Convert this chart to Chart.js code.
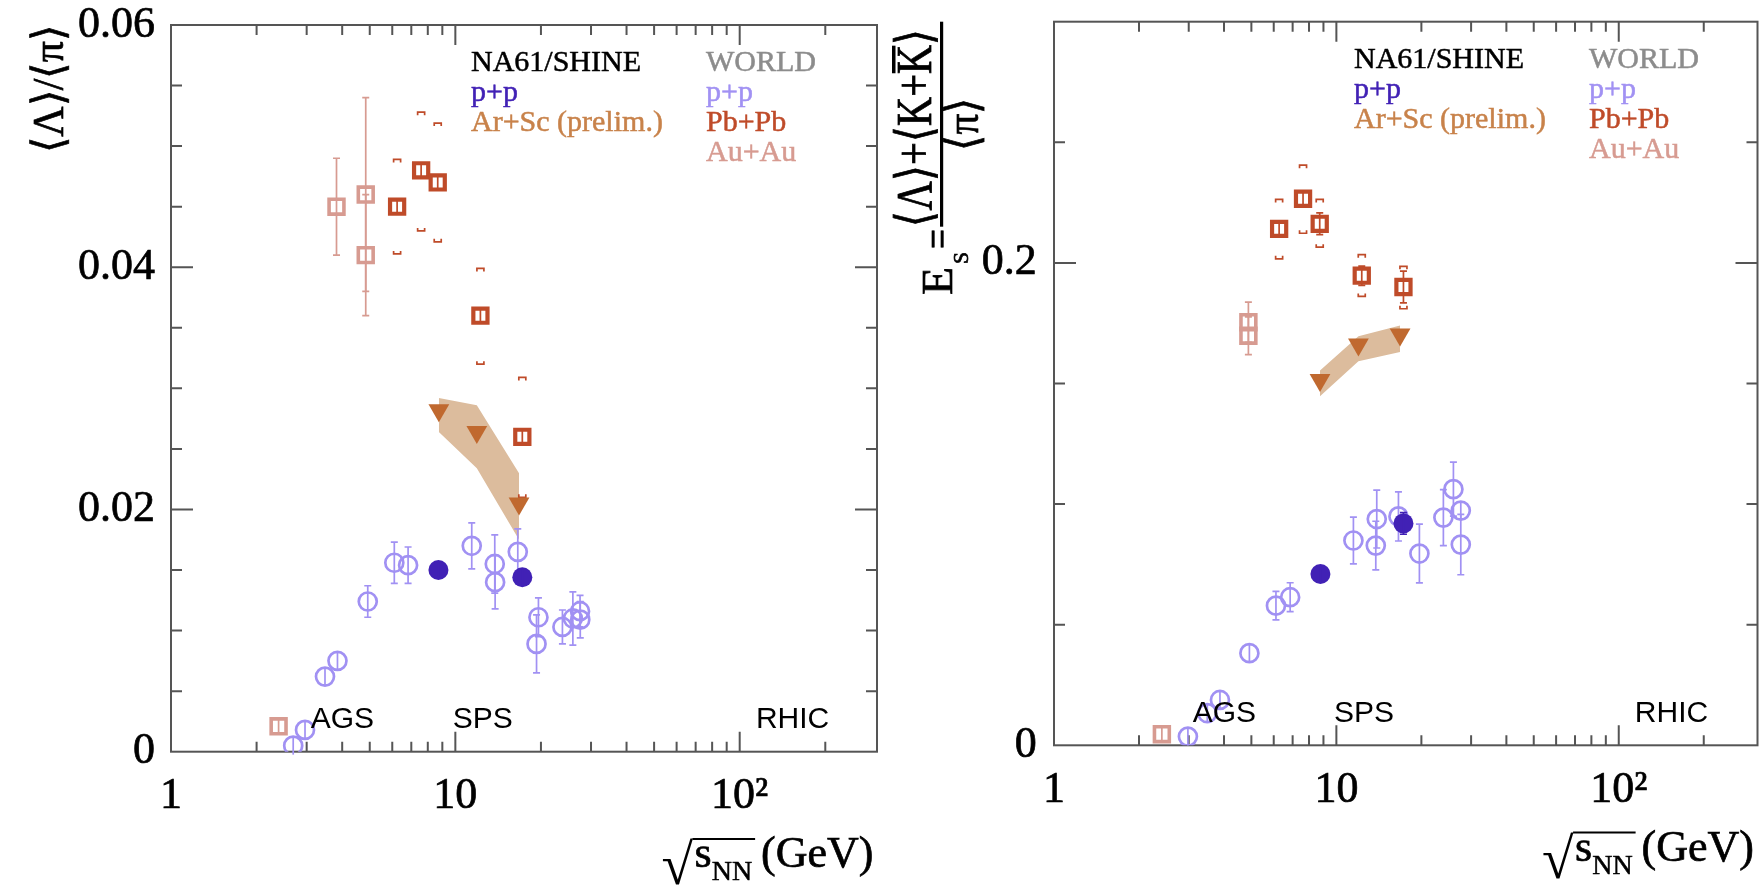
<!DOCTYPE html>
<html>
<head>
<meta charset="utf-8">
<title>Lambda/pi and E_S versus collision energy</title>
<script src="https://cdn.jsdelivr.net/npm/chart.js@4.4.1/dist/chart.umd.min.js"></script>
<style>
  html, body { margin: 0; padding: 0; background: #fff; }
  body { width: 1759px; height: 890px; position: relative; overflow: hidden; }
  .panel { position: absolute; top: 0; }
  #lambdaPanel { left: 0; }
  #esPanel { left: 880px; }
</style>
</head>
<body>
<canvas id="lambdaPanel" class="panel" width="880" height="890"></canvas>
<canvas id="esPanel" class="panel" width="879" height="890"></canvas>
<script>
// ---- axis ticks (shared x axis, sqrt(s_NN) in GeV) ----
const xTickValues = [1, 2, 3, 4, 5, 6, 7, 8, 9, 10, 20, 30, 40, 50, 60, 70, 80, 90, 100, 200];
const xMajorTicks = [1, 10, 100];
const xMajorLabels = ['1', '10', '10²'];

const lamYTicks = [0, 0.005, 0.01, 0.015, 0.02, 0.025, 0.03, 0.035, 0.04, 0.045, 0.05, 0.055, 0.06];
const lamYMajor = [0, 0.02, 0.04, 0.06];
const lamYLabels = ['0', '0.02', '0.04', '0.06'];

const esYTicks = [0, 0.05, 0.1, 0.15, 0.2, 0.25, 0.3];
const esYMajor = [0, 0.2];
const esYLabels = ['0', '0.2'];

// ---- legend and accelerator labels ----
const legendNa61 = ['NA61/SHINE', 'p+p', 'Ar+Sc (prelim.)'];
const legendWorld = ['WORLD', 'p+p', 'Pb+Pb', 'Au+Au'];
const regionNames = ['AGS', 'SPS', 'RHIC'];
const regionX = [3.1, 9.8, 114];

// ---- left panel: <Lambda>/<pi> ----
const lamNa61PpX = [8.72, 17.2];
const lamNa61PpY = [0.0150, 0.0144];
const lamNa61PpErr = [0.0004, 0.0004];

const lamWorldPpX = [2.69, 2.96, 3.48, 3.85, 4.92, 6.10, 6.82, 11.42, 13.76, 13.80, 16.58, 19.6, 19.3, 23.8, 25.9, 27.45, 27.5];
const lamWorldPpY = [0.0005, 0.0018, 0.0062, 0.0075, 0.0124, 0.0156, 0.0154, 0.0170, 0.0155, 0.0140, 0.0165, 0.0111, 0.0089, 0.0103, 0.0110, 0.0116, 0.0109];
const lamWorldPpErr = [0.0004, 0.0005, 0.0002, 0.0002, 0.0013, 0.0017, 0.0015, 0.0019, 0.0024, 0.0022, 0.0019, 0.0016, 0.0024, 0.0014, 0.0022, 0.0013, 0.0015];

const lamArScX = [8.75, 11.9, 16.75];
const lamArScY = [0.0282, 0.0264, 0.0205];
const lamArScBandHi = [0.0292, 0.0286, 0.0230];
const lamArScBandLo = [0.0264, 0.0234, 0.0175];

const lamPbPbX = [6.24, 7.58, 8.67, 12.25, 17.2];
const lamPbPbY = [0.0450, 0.0480, 0.0470, 0.0360, 0.0260];
const lamPbPbErr = [0.0005, 0.0004, 0.0004, 0.0004, 0.0004];
const lamPbPbSysHi = [0.0489, 0.0528, 0.0519, 0.0399, 0.0309];
const lamPbPbSysLo = [0.0411, 0.0430, 0.0421, 0.0320, 0.0210];

const lamAuAuX = [2.39, 3.82, 4.84, 4.84];
const lamAuAuY = [0.0021, 0.0450, 0.0460, 0.0410];
const lamAuAuErr = [0.0004, 0.0040, 0.0080, 0.0050];

// ---- right panel: E_S ----
const esNa61PpX = [8.78, 17.28];
const esNa61PpY = [0.0710, 0.0920];
const esNa61PpErr = [0.0015, 0.0045];

const esWorldPpX = [2.98, 3.49, 3.87, 4.92, 6.11, 6.86, 11.49, 13.90, 13.79, 16.59, 19.68, 23.93, 25.97, 27.58, 27.58];
const esWorldPpY = [0.0036, 0.0133, 0.0188, 0.0382, 0.0579, 0.0614, 0.0849, 0.0938, 0.0828, 0.0949, 0.0795, 0.0944, 0.1062, 0.0973, 0.0832];
const esWorldPpErr = [0.0010, 0.0020, 0.0030, 0.0020, 0.0059, 0.0060, 0.0097, 0.0120, 0.0101, 0.0102, 0.0122, 0.0116, 0.0112, 0.0040, 0.0125];

const esArScX = [8.75, 11.97, 16.81];
const esArScY = [0.1514, 0.1662, 0.1703];
const esArScBandHi = [0.1554, 0.1696, 0.1740];
const esArScBandLo = [0.1447, 0.1592, 0.1631];

const esPbPbX = [6.27, 7.62, 8.73, 12.3, 17.28];
const esPbPbY = [0.2141, 0.2266, 0.2162, 0.1947, 0.1900];
const esPbPbErr = [0.0020, 0.0020, 0.0045, 0.0040, 0.0066];
const esPbPbSysHi = [0.2263, 0.2405, 0.2263, 0.2034, 0.1986];
const esPbPbSysLo = [0.2017, 0.2123, 0.2065, 0.1861, 0.1810];

const esAuAuX = [2.41, 4.88, 4.88];
const esAuAuY = [0.0046, 0.1754, 0.1698];
const esAuAuErr = [0.0015, 0.0083, 0.0078];

// ---- colours ----
const colNa61Pp = '#4121b5';
const colWorldPp = '#a191f3';
const colArSc = '#c0692f';
const colArScText = '#c8824a';
const colBand = '#dcbc9d';
const colPbPb = '#bf4b29';
const colAuAu = '#d79b91';
const colWorld = '#8c8c8c';
const colAxis = '#555';

const serif = "'Liberation Serif', 'Times New Roman', serif";
const sans = "'Liberation Sans', Arial, sans-serif";
Chart.defaults.font.family = serif;

const na61Colors = ['#000', colNa61Pp, colArScText];
const worldColors = [colWorld, colWorldPp, colPbPb, colAuAu];

// per-canvas extras that are not chart options
const extras = {};

function pts(xs, ys) {
    return xs.map((x, i) => ({ x: x, y: ys[i] }));
}

// filled text with a thin outline, the original is set a bit heavier
function heavyText(ctx, text, x, y, weight) {
    ctx.lineWidth = weight;
    ctx.strokeStyle = ctx.fillStyle;
    ctx.strokeText(text, x, y);
    ctx.fillText(text, x, y);
}

// text drawn rotated by -90deg, starting at (x, y) on its baseline, squeezed to len px
function rotText(ctx, text, x, y, font, len) {
    ctx.save();
    ctx.translate(x, y);
    ctx.rotate(-Math.PI / 2);
    ctx.font = font;
    ctx.textAlign = 'left';
    ctx.textBaseline = 'alphabetic';
    const w = ctx.measureText(text).width;
    if (len) ctx.scale(len / w, 1);
    heavyText(ctx, text, 0, 0, 0.7);
    ctx.restore();
}

function drawXTitle(ctx, a) {
    const right = a.right - 3.5;
    const base = a.bottom + 115.3;
    ctx.fillStyle = '#000';
    ctx.textAlign = 'left';
    ctx.textBaseline = 'alphabetic';
    ctx.font = `44px ${serif}`;
    const gevW = ctx.measureText('(GeV)').width;
    const gevX = right - gevW;
    heavyText(ctx, '(GeV)', gevX, base, 0.7);
    ctx.font = `28px ${serif}`;
    const nnW = ctx.measureText('NN').width;
    const nnX = gevX - 9 - nnW;
    heavyText(ctx, 'NN', nnX, base + 13, 0.5);
    ctx.font = `44px ${serif}`;
    const sW = ctx.measureText('s').width;
    const sX = nnX - sW;
    heavyText(ctx, 's', sX, base, 0.7);
    // radical with its over-bar
    const barY = base - 29;
    let m = ctx.measureText('√');
    const size = 44 * 47 / (m.actualBoundingBoxAscent + m.actualBoundingBoxDescent);
    ctx.font = `${size}px ${serif}`;
    m = ctx.measureText('√');
    const rx = sX - 1 - m.actualBoundingBoxRight;
    ctx.fillText('√', rx, barY + m.actualBoundingBoxAscent);
    ctx.strokeStyle = '#000';
    ctx.lineWidth = 2;
    ctx.beginPath();
    ctx.moveTo(sX - 2, barY + 1);
    ctx.lineTo(nnX + nnW + 3, barY + 1);
    ctx.stroke();
}

function lambdaTitle(ctx, a) {
    ctx.fillStyle = '#000';
    rotText(ctx, '⟨Λ⟩/⟨π⟩', 63, a.top + 128, `44px ${serif}`, 128);
}

function esTitle(ctx, a) {
    ctx.fillStyle = '#000';
    // numerator: <Lambda>+<K+Kbar>
    ctx.save();
    ctx.translate(51, 226.7);
    ctx.rotate(-Math.PI / 2);
    ctx.font = `50px ${serif}`;
    ctx.textBaseline = 'alphabetic';
    ctx.textAlign = 'left';
    const parts = ['⟨Λ⟩+⟨K+', 'K', '⟩'];
    const widths = parts.map(t => ctx.measureText(t).width);
    const total = widths.reduce((s, w) => s + w, 0);
    ctx.scale(198 / total, 1);
    let u = 0;
    parts.forEach((t, i) => { heavyText(ctx, t, u, 0, 0.8); u += widths[i]; });
    ctx.fillRect(widths[0] + 1, -39, widths[1] - 2, 3.5);
    ctx.restore();
    // fraction bar
    ctx.fillRect(60, 21.7, 3.2, 205);
    // denominator <pi>
    rotText(ctx, '⟨π⟩', 98, 150.5, `46px ${serif}`, 53);
    // E_S =
    rotText(ctx, '=', 72, 249, `44px ${serif}`, 20);
    rotText(ctx, 'E', 72, 295, `44px ${serif}`, 28);
    rotText(ctx, 'S', 88, 264, `20px ${serif}`, 12);
}

// frame with ticks pointing inward, ROOT style
const axisFrame = {
    id: 'axisFrame',
    beforeDatasetsDraw(chart) {
        const ex = extras[chart.canvas.id];
        const { ctx, chartArea: a, scales: { x, y } } = chart;
        ctx.save();
        ctx.strokeStyle = colAxis;
        ctx.lineWidth = 2;
        ctx.strokeRect(a.left, a.top, a.right - a.left, a.bottom - a.top);
        ctx.beginPath();
        x.ticks.forEach(t => {
            const px = x.getPixelForValue(t.value);
            if (px <= a.left + 1 || px >= a.right - 1) return;
            const len = xMajorTicks.includes(t.value) ? 20 : 10;
            ctx.moveTo(px, a.bottom); ctx.lineTo(px, a.bottom - len);
            ctx.moveTo(px, a.top); ctx.lineTo(px, a.top + len);
        });
        y.ticks.forEach(t => {
            const py = y.getPixelForValue(t.value);
            if (py <= a.top + 1 || py >= a.bottom - 1) return;
            const len = ex.yMajor.includes(t.value) ? 22 : 11;
            ctx.moveTo(a.left, py); ctx.lineTo(a.left + len, py);
            ctx.moveTo(a.right, py); ctx.lineTo(a.right - len, py);
        });
        ctx.stroke();
        ctx.restore();
    }
};

// statistical error bars and systematic brackets
const errorBars = {
    id: 'errorBars',
    afterDatasetDraw(chart, args) {
        const ds = chart.data.datasets[args.index];
        if (!ds.err && !ds.sysHi) return;
        const { ctx, scales: { x, y } } = chart;
        ctx.save();
        ctx.strokeStyle = ds.barColor;
        ctx.lineWidth = 1.7;
        ds.data.forEach((p, i) => {
            const px = x.getPixelForValue(p.x);
            const py = y.getPixelForValue(p.y);
            if (ds.err) {
                const top = y.getPixelForValue(p.y + ds.err[i]);
                const bot = y.getPixelForValue(p.y - ds.err[i]);
                ctx.beginPath();
                ctx.moveTo(px, Math.min(top, py - ds.half));
                ctx.lineTo(px, Math.max(bot, py + ds.half));
                if (py - top > ds.half + 1) {
                    ctx.moveTo(px - 3.5, top); ctx.lineTo(px + 3.5, top);
                    ctx.moveTo(px - 3.5, bot); ctx.lineTo(px + 3.5, bot);
                }
                ctx.stroke();
            }
            if (ds.sysHi) {
                const hi = y.getPixelForValue(ds.sysHi[i]);
                const lo = y.getPixelForValue(ds.sysLo[i]);
                ctx.beginPath();
                ctx.moveTo(px - 3.5, hi + 3); ctx.lineTo(px - 3.5, hi); ctx.lineTo(px + 3.5, hi); ctx.lineTo(px + 3.5, hi + 3);
                ctx.moveTo(px - 3.5, lo - 3); ctx.lineTo(px - 3.5, lo); ctx.lineTo(px + 3.5, lo); ctx.lineTo(px + 3.5, lo - 3);
                ctx.stroke();
            }
        });
        ctx.restore();
    }
};

// legend, accelerator names and axis titles
const panelText = {
    id: 'panelText',
    afterDraw(chart) {
        const ex = extras[chart.canvas.id];
        const { ctx, chartArea: a, scales: { x } } = chart;
        ctx.save();
        ctx.textAlign = 'left';
        ctx.textBaseline = 'alphabetic';
        ctx.font = `30px ${serif}`;
        legendNa61.forEach((t, i) => {
            ctx.fillStyle = na61Colors[i];
            heavyText(ctx, t, a.left + 300, a.top + 46 + 30 * i, 0.5);
        });
        legendWorld.forEach((t, i) => {
            ctx.fillStyle = worldColors[i];
            heavyText(ctx, t, a.left + 535, a.top + 46 + 30 * i, 0.5);
        });
        ctx.font = `30px ${sans}`;
        ctx.fillStyle = '#000';
        regionNames.forEach((t, i) => ctx.fillText(t, x.getPixelForValue(regionX[i]), a.bottom - 23.5));
        drawXTitle(ctx, a);
        ex.drawYTitle(ctx, a);
        ctx.restore();
    }
};

function buildPanel(canvasId, d) {
    extras[canvasId] = { yMajor: d.yMajor, drawYTitle: d.drawYTitle };

    const datasets = [
        { label: 'Ar+Sc band (upper)', type: 'line', data: pts(d.arScX, d.bandHi),
          borderWidth: 0, pointRadius: 0, fill: false, tension: 0, order: 20 },
        { label: 'Ar+Sc band (lower)', type: 'line', data: pts(d.arScX, d.bandLo),
          borderWidth: 0, pointRadius: 0, fill: '-1', backgroundColor: colBand, tension: 0, order: 20 },
        { label: 'Au+Au', data: pts(d.auAuX, d.auAuY), err: d.auAuErr, barColor: colAuAu, half: 7.4,
          pointStyle: 'rect', pointRadius: 10.5, pointBorderWidth: 3.6,
          pointBorderColor: colAuAu, pointBackgroundColor: 'rgba(0,0,0,0)', order: 5 },
        { label: 'Pb+Pb', data: pts(d.pbPbX, d.pbPbY), err: d.pbPbErr, sysHi: d.pbPbSysHi, sysLo: d.pbPbSysLo,
          barColor: colPbPb, half: 7,
          pointStyle: 'rect', pointRadius: 10, pointBorderWidth: 4.2,
          pointBorderColor: colPbPb, pointBackgroundColor: 'rgba(0,0,0,0)', order: 4 },
        { label: 'Ar+Sc (prelim.)', data: pts(d.arScX, d.arScY),
          pointStyle: 'triangle', pointRotation: 180, pointRadius: 12, pointBorderWidth: 0,
          pointBackgroundColor: colArSc, pointBorderColor: colArSc, order: 3 },
        { label: 'World p+p', data: pts(d.worldPpX, d.worldPpY), err: d.worldPpErr, barColor: colWorldPp, half: 9,
          pointStyle: 'circle', pointRadius: 9, pointBorderWidth: 2.7,
          pointBorderColor: colWorldPp, pointBackgroundColor: 'rgba(0,0,0,0)', order: 2 },
        { label: 'NA61/SHINE p+p', data: pts(d.na61PpX, d.na61PpY), err: d.na61PpErr, barColor: colNa61Pp, half: 9,
          pointStyle: 'circle', pointRadius: 10, pointBorderWidth: 0,
          pointBackgroundColor: colNa61Pp, pointBorderColor: colNa61Pp, order: 1 }
    ];

    return new Chart(document.getElementById(canvasId), {
        type: 'scatter',
        data: { datasets: datasets },
        options: {
            responsive: false,
            animation: false,
            devicePixelRatio: 1,
            events: [],
            layout: { autoPadding: false, padding: { left: 0, top: d.padTop, right: d.padRight, bottom: 0 } },
            plugins: { legend: { display: false }, tooltip: { enabled: false } },
            scales: {
                x: {
                    type: 'logarithmic', min: 1, max: d.xMax, bounds: 'data',
                    grid: { display: false, drawTicks: false }, border: { display: false },
                    ticks: {
                        color: '#000', font: { family: serif, size: 44 }, padding: 18.6,
                        textStrokeColor: '#000', textStrokeWidth: 0.7,
                        maxRotation: 0, minRotation: 0, autoSkip: false,
                        callback: v => { const k = xMajorTicks.indexOf(v); return k < 0 ? '' : xMajorLabels[k]; }
                    },
                    afterBuildTicks: s => { s.ticks = xTickValues.map(v => ({ value: v })); },
                    afterFit: s => { s.height = d.xAxisHeight; s.paddingLeft = 0; s.paddingRight = 0; }
                },
                y: {
                    type: 'linear', min: 0, max: d.yMax,
                    grid: { display: false, drawTicks: false }, border: { display: false },
                    ticks: {
                        color: '#000', font: { family: serif, size: 44 }, padding: d.yLabelPad, autoSkip: false,
                        textStrokeColor: '#000', textStrokeWidth: 0.7,
                        callback: v => { const k = d.yMajor.indexOf(v); return k < 0 ? '' : d.yLabels[k]; }
                    },
                    afterBuildTicks: s => { s.ticks = d.yTicks.map(v => ({ value: v })); },
                    afterFit: s => { s.width = d.yAxisWidth; s.paddingTop = 0; s.paddingBottom = 0; }
                }
            }
        },
        plugins: [axisFrame, errorBars, panelText]
    });
}

buildPanel('lambdaPanel', {
    na61PpX: lamNa61PpX, na61PpY: lamNa61PpY, na61PpErr: lamNa61PpErr,
    worldPpX: lamWorldPpX, worldPpY: lamWorldPpY, worldPpErr: lamWorldPpErr,
    arScX: lamArScX, arScY: lamArScY, bandHi: lamArScBandHi, bandLo: lamArScBandLo,
    pbPbX: lamPbPbX, pbPbY: lamPbPbY, pbPbErr: lamPbPbErr, pbPbSysHi: lamPbPbSysHi, pbPbSysLo: lamPbPbSysLo,
    auAuX: lamAuAuX, auAuY: lamAuAuY, auAuErr: lamAuAuErr,
    yTicks: lamYTicks, yMajor: lamYMajor, yLabels: lamYLabels, yMax: 0.06,
    xMax: 304, padTop: 25, padRight: 3, yAxisWidth: 171, xAxisHeight: 138.3, yLabelPad: 16,
    drawYTitle: lambdaTitle
});

buildPanel('esPanel', {
    na61PpX: esNa61PpX, na61PpY: esNa61PpY, na61PpErr: esNa61PpErr,
    worldPpX: esWorldPpX, worldPpY: esWorldPpY, worldPpErr: esWorldPpErr,
    arScX: esArScX, arScY: esArScY, bandHi: esArScBandHi, bandLo: esArScBandLo,
    pbPbX: esPbPbX, pbPbY: esPbPbY, pbPbErr: esPbPbErr, pbPbSysHi: esPbPbSysHi, pbPbSysLo: esPbPbSysLo,
    auAuX: esAuAuX, auAuY: esAuAuY, auAuErr: esAuAuErr,
    yTicks: esYTicks, yMajor: esYMajor, yLabels: esYLabels, yMax: 0.3,
    xMax: 310, padTop: 21.7, padRight: 1.5, yAxisWidth: 174, xAxisHeight: 144.7, yLabelPad: 17.3,
    drawYTitle: esTitle
});
</script>
</body>
</html>
